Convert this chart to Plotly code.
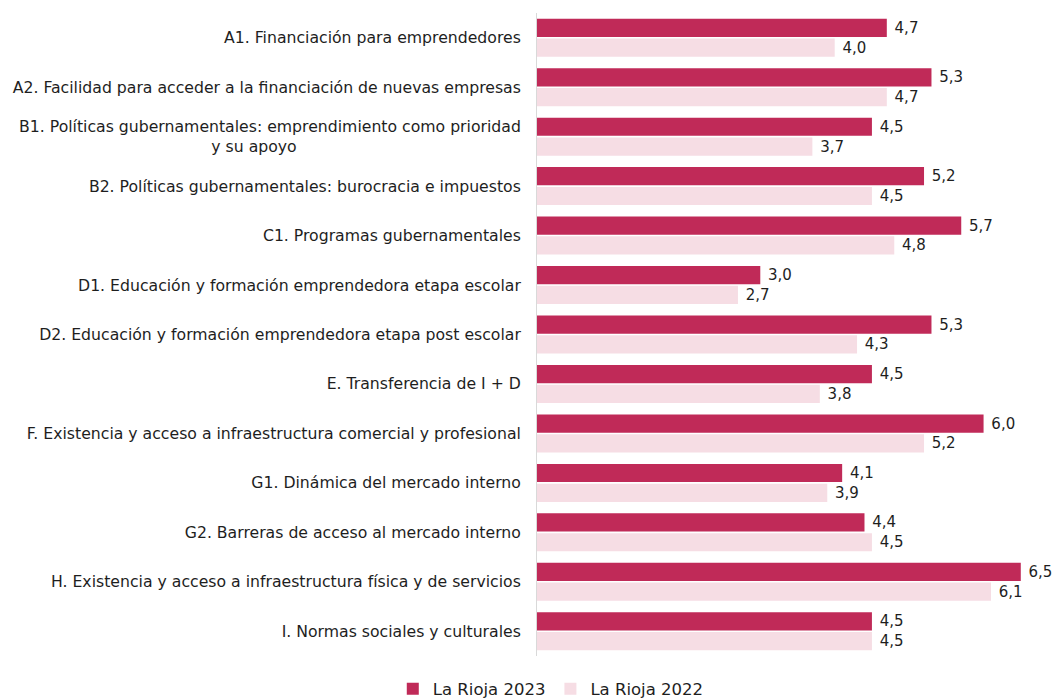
import plotly.graph_objects as go

PAD = "<span style='color:rgba(0,0,0,0)'>emprendimiento como priori</span>"
categories = [
    "A1. Financiación para emprendedores",
    "A2. Facilidad para acceder a la financiación de nuevas empresas",
    "B1. Políticas gubernamentales: emprendimiento como prioridad<br>y su apoyo" + PAD,
    "B2. Políticas gubernamentales: burocracia e impuestos",
    "C1. Programas gubernamentales",
    "D1. Educación y formación emprendedora etapa escolar",
    "D2. Educación y formación emprendedora etapa post escolar",
    "E. Transferencia de I + D",
    "F. Existencia y acceso a infraestructura comercial y profesional",
    "G1. Dinámica del mercado interno",
    "G2. Barreras de acceso al mercado interno",
    "H. Existencia y acceso a infraestructura física y de servicios",
    "I. Normas sociales y culturales",
]
rioja_2023 = [4.7, 5.3, 4.5, 5.2, 5.7, 3.0, 5.3, 4.5, 6.0, 4.1, 4.4, 6.5, 4.5]
rioja_2022 = [4.0, 4.7, 3.7, 4.5, 4.8, 2.7, 4.3, 3.8, 5.2, 3.9, 4.5, 6.1, 4.5]

FONT = "DejaVu Sans"
TXT = "#1e1e1e"
FS = 15.7

fig = go.Figure()
fig.add_trace(go.Bar(
    name="La Rioja 2023", y=categories, x=rioja_2023, orientation="h",
    marker=dict(color="#C02A58", line=dict(width=0)),
    texttemplate="\u00a0%{x:.1f}", textposition="outside", cliponaxis=False,
    textfont=dict(family=FONT, size=15, color=TXT),
))
fig.add_trace(go.Bar(
    name="La Rioja 2022", y=categories, x=rioja_2022, orientation="h",
    marker=dict(color="#F6DDE4", line=dict(width=0)),
    texttemplate="\u00a0%{x:.1f}", textposition="outside", cliponaxis=False,
    textfont=dict(family=FONT, size=15, color=TXT),
))

fig.update_layout(
    width=1056, height=690,
    margin=dict(l=529, r=6, t=5, b=42, autoexpand=False),
    paper_bgcolor="white", plot_bgcolor="white",
    separators=", ",
    barmode="group", bargap=0.2, bargroupgap=0.08,
    font=dict(family=FONT, size=FS, color=TXT),
    showlegend=True,
    legend=dict(orientation="h", x=0.514, xref="container", xanchor="center",
                y=0.013, yref="container", yanchor="middle",
                font=dict(family=FONT, size=16.5, color=TXT),
                itemwidth=30, tracegroupgap=0),
    xaxis=dict(range=[0, 7.0], visible=False, showgrid=False, zeroline=False),
    yaxis=dict(autorange="reversed", showline=True, linecolor="#d9d9d9", linewidth=1,
               showgrid=False, ticks="", ticklabelstandoff=12, automargin=False,
               tickfont=dict(family=FONT, size=FS, color=TXT)),
)

fig.write_html("out.html")
